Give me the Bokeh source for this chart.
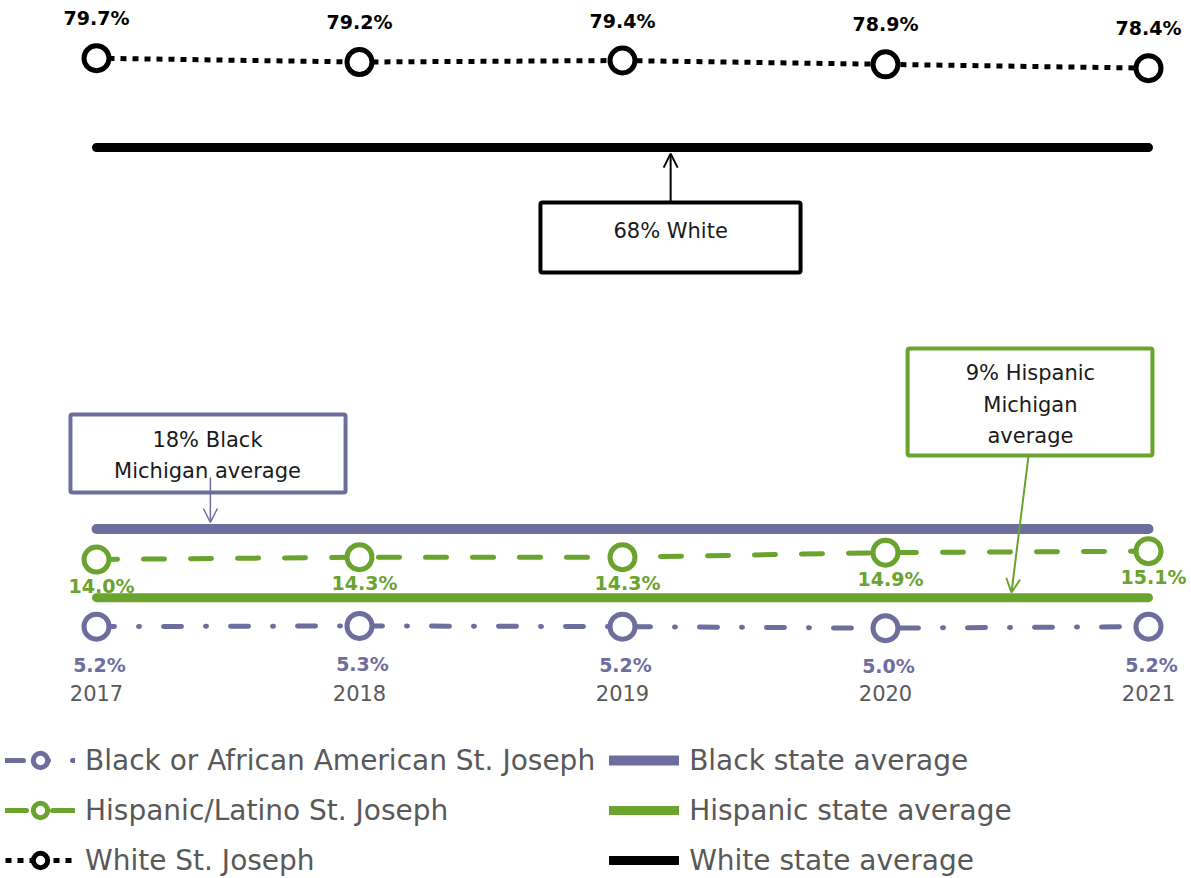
from bokeh.plotting import figure
from bokeh.models import (Legend, LegendItem, BoxAnnotation, Label, Arrow, OpenHead, Range1d)
from bokeh.embed import file_html
from bokeh.resources import INLINE
from bokeh.core.properties import value

# ---------------- data ----------------
years = [2017, 2018, 2019, 2020, 2021]
year_labels = ["2017", "2018", "2019", "2020", "2021"]
black_sj = [5.2, 5.3, 5.2, 5.0, 5.2]
hispanic_sj = [14.0, 14.3, 14.3, 14.9, 15.1]
white_sj = [79.7, 79.2, 79.4, 78.9, 78.4]
black_state = [18, 18, 18, 18, 18]
hispanic_state = [9, 9, 9, 9, 9]
white_state = [68, 68, 68, 68, 68]

# ---------------- styles ----------------
PURPLE = "#6D6E9E"
GREEN = "#6AA32E"
BLACK = "#000000"
GRAY = "#595959"
FONT = "DejaVu Sans"

W, H = 1191, 878
PXU = 7.63                   # pixels per percentage point
PXY = 263.0                  # pixels per year
YEAR_LABEL_Y = 68 - (692 - 147) / PXU   # vertical position of the year labels

p = figure(width=W, height=H, output_backend="svg", toolbar_location=None,
           x_axis_location=None, y_axis_location=None,
           min_border_left=0, min_border_right=0, min_border_top=0, min_border_bottom=0,
           x_range=Range1d(2017 - 96 / PXY, 2021 + 95 / PXY - 52 / PXY),
           y_range=Range1d(68 - (H - 147) / PXU, 68 + 147 / PXU))
p.outline_line_color = None
p.grid.visible = False
p.background_fill_color = "white"
p.border_fill_color = "white"

# year (category) labels
p.text(years, [YEAR_LABEL_Y] * len(years), text=year_labels, text_align="center",
       text_baseline="middle", text_font=value(FONT), text_font_size="21px", text_color=GRAY)

# state averages (white & black)
r_ws = p.line(years, white_state, line_color=BLACK, line_width=9, line_cap="round")
r_bs = p.line(years, black_state, line_color=PURPLE, line_width=10, line_cap="round")

# St. Joseph series
r_wl = p.line(years, white_sj, line_color=BLACK, line_width=5, line_dash="6 6")
r_hl = p.line(years, hispanic_sj, line_color=GREEN, line_width=5, line_dash="21 26", line_cap="round")
r_bl = p.line(years, black_sj, line_color=PURPLE, line_width=5, line_dash="18 24 1 24", line_cap="round")

r_wm = p.scatter(years, white_sj, marker="circle", size=25, fill_color="white", line_color=BLACK, line_width=5)
r_hm = p.scatter(years, hispanic_sj, marker="circle", size=25, fill_color="white", line_color=GREEN, line_width=5)
r_bm = p.scatter(years, black_sj, marker="circle", size=25, fill_color="white", line_color=PURPLE, line_width=5)

# data labels
p.text(years, white_sj, text=[f"{v:.1f}%" for v in white_sj], y_offset=-40,
       text_align="center", text_baseline="middle", text_font=value(FONT),
       text_font_style="bold", text_font_size="19px", text_color=BLACK)
p.text(years, hispanic_sj, text=[f"{v:.1f}%" for v in hispanic_sj], x_offset=5, y_offset=26,
       text_align="center", text_baseline="middle", text_font=value(FONT),
       text_font_style="bold", text_font_size="19px", text_color=GREEN)
p.text(years, black_sj, text=[f"{v:.1f}%" for v in black_sj], x_offset=3, y_offset=38,
       text_align="center", text_baseline="middle", text_font=value(FONT),
       text_font_style="bold", text_font_size="19px", text_color=PURPLE)

# hispanic state average on top of labels
r_hs = p.line(years, hispanic_state, line_color=GREEN, line_width=9, line_cap="round")

# ---------------- callouts ----------------
def callout(left, right, top, bottom, tx, ty, text, color, ax0, ay0, ax1, ay1, lw):
    p.add_layout(BoxAnnotation(left=left, right=right, top=top, bottom=bottom,
                               fill_color="white", fill_alpha=1.0, line_color=color,
                               line_alpha=1.0, line_width=4, border_radius=2,
                               level="annotation"))
    p.add_layout(Label(x=tx, y=ty, text=text, text_align="center", text_baseline="middle",
                       text_font=FONT, text_font_size="21px", text_color="#1a1a1a",
                       text_line_height=1.3))
    p.add_layout(Arrow(end=OpenHead(size=14, line_color=color, line_width=lw),
                       x_start=ax0, y_start=ay0, x_end=ax1, y_end=ay1,
                       line_color=color, line_width=lw))

callout(2018.688, 2019.677, 60.79, 51.62, 2019.183, 57.12, "68% White", BLACK,
        2019.183, 60.79, 2019.183, 67.2, 2)
callout(2016.901, 2017.947, 33.01, 22.78, 2017.422, 27.6, "18% Black\nMichigan average", PURPLE,
        2017.433, 24.75, 2017.433, 18.85, 1.5)
callout(2020.084, 2021.015, 41.66, 27.63, 2020.551, 34.3, "9% Hispanic\nMichigan\naverage", GREEN,
        2020.544, 27.63, 2020.479, 9.68, 2)

# ---------------- legend ----------------
legend = Legend(items=[
    LegendItem(label="Black or African American St. Joseph", renderers=[r_bl, r_bm]),
    LegendItem(label="Hispanic/Latino St. Joseph", renderers=[r_hl, r_hm]),
    LegendItem(label="White St. Joseph", renderers=[r_wl, r_wm]),
    LegendItem(label="Black state average", renderers=[r_bs]),
    LegendItem(label="Hispanic state average", renderers=[r_hs]),
    LegendItem(label="White state average", renderers=[r_ws]),
], ncols=2, orientation="vertical", location=(5, 0), margin=0, padding=0, spacing=14,
   glyph_width=70, glyph_height=36, label_height=36, label_standoff=10,
   label_text_font=FONT, label_text_font_size="28px", label_text_color=GRAY,
   border_line_color=None, background_fill_alpha=0)
p.add_layout(legend, "center")

open("out.html", "w").write(file_html(p, INLINE))
